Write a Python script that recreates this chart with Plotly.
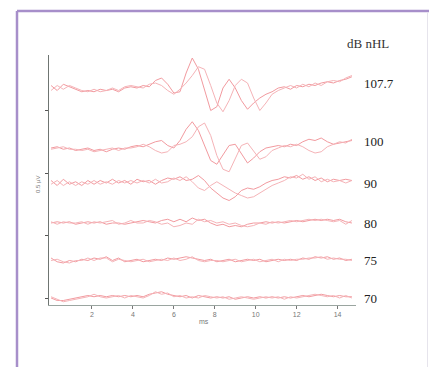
import plotly.graph_objects as go

# time axis (ms)
time_ms = [0.0, 0.3, 0.6, 0.9, 1.2, 1.5, 1.8, 2.1, 2.4, 2.7,
           3.0, 3.3, 3.6, 3.9, 4.2, 4.5, 4.8, 5.1, 5.4, 5.7,
           6.0, 6.3, 6.6, 6.9, 7.2, 7.5, 7.8, 8.1, 8.4, 8.7,
           9.0, 9.3, 9.6, 9.9, 10.2, 10.5, 10.8, 11.1, 11.4, 11.7,
           12.0, 12.3, 12.6, 12.9, 13.2, 13.5, 13.8, 14.1, 14.4, 14.7]

levels = ["107.7", "100", "90", "80", "75", "70"]
offsets_uv = [1.68, 1.20, 0.92, 0.60, 0.30, 0.0]

# replicate A / B waveforms (µV, relative to each trace baseline)
w1077_a = [0.02, -0.02, 0.03, 0.01, -0.01, -0.03, -0.02, -0.03, -0.01, -0.02,
           -0.01, -0.03, 0.00, 0.01, 0.00, 0.02, 0.01, 0.06, 0.08, 0.03,
           -0.04, -0.03, 0.12, 0.24, 0.15, -0.02, -0.18, -0.15, 0.00, 0.07,
           0.00, -0.10, -0.17, -0.12, -0.08, -0.05, -0.03, 0.00, 0.01, -0.01,
           0.02, 0.01, 0.03, 0.02, 0.04, 0.05, 0.04, 0.06, 0.07, 0.09]
w1077_b = [-0.02, 0.02, -0.01, 0.02, 0.00, -0.02, -0.03, -0.01, -0.03, -0.02,
           0.00, -0.02, 0.01, 0.02, 0.01, 0.00, 0.03, 0.04, 0.02, -0.02,
           -0.05, -0.01, 0.04, 0.10, 0.17, 0.15, 0.02, -0.12, -0.19, -0.10,
           0.02, 0.07, 0.04, -0.08, -0.18, -0.12, -0.05, -0.02, 0.00, 0.02,
           0.00, 0.03, 0.01, 0.04, 0.02, 0.05, 0.06, 0.05, 0.08, 0.10]
w100_a = [0.00, 0.01, -0.01, 0.00, -0.02, -0.01, 0.00, -0.02, -0.01, -0.03,
          -0.01, 0.00, -0.01, 0.01, 0.02, 0.01, 0.03, 0.05, 0.06, 0.02,
          0.00, 0.06, 0.15, 0.21, 0.14, 0.02, -0.10, -0.13, -0.05, 0.02,
          0.03, -0.05, -0.12, -0.08, -0.03, 0.00, 0.01, 0.02, 0.01, 0.03,
          0.02, 0.05, 0.07, 0.06, 0.08, 0.05, 0.03, 0.04, 0.05, 0.06]
w100_b = [-0.01, 0.00, 0.01, -0.01, -0.01, -0.02, -0.01, -0.03, -0.02, -0.01,
          0.00, -0.02, 0.00, 0.00, 0.01, 0.03, 0.01, -0.02, -0.04, -0.03,
          0.02, 0.03, 0.05, 0.09, 0.17, 0.20, 0.10, -0.06, -0.17, -0.19,
          -0.08, 0.02, 0.04, -0.03, -0.09, -0.07, -0.02, 0.00, 0.02, 0.01,
          0.03, 0.01, -0.02, -0.04, -0.03, 0.01, 0.03, 0.05, 0.04, 0.07]
w90_a = [0.02, -0.02, 0.03, -0.01, 0.01, -0.02, 0.02, -0.01, 0.02, 0.00,
         0.03, 0.00, 0.02, -0.01, 0.03, 0.01, 0.02, -0.01, 0.02, 0.04,
         0.03, 0.05, 0.02, 0.03, 0.06, 0.02, -0.04, -0.08, -0.12, -0.14,
         -0.11, -0.06, -0.04, -0.05, -0.03, 0.00, 0.02, 0.03, 0.05, 0.04,
         0.06, 0.03, 0.05, 0.02, 0.04, 0.01, 0.03, 0.02, 0.03, 0.02]
w90_b = [-0.01, 0.02, -0.02, 0.01, -0.02, 0.01, -0.01, 0.02, -0.01, 0.01,
         -0.01, 0.02, 0.00, 0.02, 0.00, 0.02, 0.00, 0.03, 0.00, 0.01,
         0.04, 0.02, 0.05, 0.01, -0.04, -0.06, -0.02, 0.01, -0.02, -0.05,
         -0.08, -0.10, -0.12, -0.11, -0.08, -0.05, -0.02, 0.00, 0.02, 0.05,
         0.04, 0.07, 0.03, 0.05, 0.01, 0.03, 0.01, 0.02, 0.00, 0.02]
w80_a = [0.00, 0.01, 0.00, 0.01, -0.01, 0.00, 0.01, 0.00, 0.01, -0.01,
         0.00, 0.00, -0.01, 0.00, 0.01, 0.02, 0.01, 0.00, 0.02, 0.03,
         0.01, 0.03, 0.01, 0.04, 0.02, 0.03, 0.00, -0.02, -0.01, -0.03,
         -0.02, -0.03, -0.01, 0.00, 0.00, 0.01, 0.00, 0.01, 0.00, 0.01,
         0.02, 0.01, 0.02, 0.03, 0.02, 0.03, 0.02, 0.03, 0.01, 0.00]
w80_b = [0.01, -0.01, 0.01, 0.00, 0.00, 0.01, -0.01, 0.01, 0.00, 0.01,
         0.02, -0.01, 0.00, 0.02, 0.00, 0.00, 0.02, 0.01, -0.01, 0.00,
         -0.03, -0.02, 0.00, -0.01, 0.03, 0.01, 0.02, 0.00, 0.01, -0.01,
         0.00, -0.02, -0.03, -0.02, 0.00, -0.01, 0.01, 0.00, 0.01, 0.02,
         0.01, 0.02, 0.03, 0.02, 0.03, 0.02, 0.01, 0.02, -0.01, 0.02]
w75_a = [0.02, -0.01, -0.02, 0.00, -0.01, 0.01, 0.00, 0.02, 0.01, 0.03,
         0.00, 0.02, -0.01, 0.00, 0.01, -0.01, 0.00, 0.01, 0.00, 0.02,
         0.01, 0.02, 0.03, 0.02, 0.01, 0.00, 0.01, -0.01, 0.00, 0.01,
         -0.01, 0.00, 0.01, 0.00, 0.01, -0.01, 0.00, 0.01, 0.00, 0.01,
         0.00, 0.02, 0.01, 0.03, 0.02, 0.03, 0.01, 0.02, 0.00, 0.01]
w75_b = [0.00, 0.01, -0.01, -0.02, 0.00, 0.00, 0.02, 0.00, 0.02, 0.02,
         -0.01, 0.01, 0.00, -0.01, 0.00, 0.01, -0.01, 0.00, 0.01, 0.00,
         0.02, 0.00, 0.01, 0.03, 0.00, -0.01, 0.00, 0.00, -0.01, 0.00,
         0.01, -0.01, 0.00, 0.01, -0.01, 0.00, 0.01, -0.01, 0.01, 0.00,
         0.01, 0.01, 0.02, 0.02, 0.03, 0.01, 0.02, 0.01, 0.01, 0.00]
w70_a = [0.00, -0.02, -0.02, -0.01, 0.00, 0.01, 0.02, 0.01, 0.02, 0.01,
         0.02, 0.01, 0.02, 0.01, 0.02, 0.01, 0.03, 0.04, 0.05, 0.03,
         0.02, 0.01, 0.02, 0.00, 0.02, 0.01, 0.00, 0.01, 0.00, 0.01,
         -0.01, 0.00, 0.01, 0.00, 0.01, 0.00, 0.01, 0.00, 0.01, 0.00,
         0.01, 0.02, 0.01, 0.02, 0.03, 0.02, 0.01, 0.02, 0.01, 0.01]
w70_b = [0.01, -0.01, -0.03, -0.02, -0.01, 0.00, 0.01, 0.03, 0.01, 0.00,
         0.01, 0.02, 0.00, 0.02, 0.01, 0.00, 0.02, 0.05, 0.03, 0.04,
         0.01, 0.02, 0.00, 0.01, 0.00, 0.02, 0.01, 0.00, 0.01, -0.01,
         0.00, 0.01, 0.00, -0.01, 0.00, 0.01, 0.00, 0.01, -0.01, 0.01,
         0.00, 0.01, 0.02, 0.03, 0.02, 0.01, 0.02, 0.00, 0.02, 0.00]

waves_a = [w1077_a, w100_a, w90_a, w80_a, w75_a, w70_a]
waves_b = [w1077_b, w100_b, w90_b, w80_b, w75_b, w70_b]
label_shift = [0.04, 0.05, 0.0, 0.0, 0.0, 0.0]

x_ticks = [2, 4, 6, 8, 10, 12, 14]
y_ticks = [0, 0.5, 1.0, 1.5]

W, H = 429, 367
ML, MR, MT, MB = 49, 73, 55, 62
PW, PH = W - ML - MR, H - MT - MB


def px_x(px):
    return (px - ML) / PW


def px_y(py):
    return (H - MB - py) / PH


fig = go.Figure()
for lvl, off, wa, wb in zip(levels, offsets_uv, waves_a, waves_b):
    fig.add_trace(go.Scatter(x=time_ms, y=[v + off for v in wa], mode="lines",
                             line=dict(color="#f29a9f", width=1), showlegend=False,
                             hoverinfo="skip"))
    fig.add_trace(go.Scatter(x=time_ms, y=[v + off for v in wb], mode="lines",
                             line=dict(color="#f5b3b7", width=1), showlegend=False,
                             hoverinfo="skip"))

annotations = []
for lvl, off, sh in zip(levels, offsets_uv, label_shift):
    annotations.append(dict(x=px_x(362), xref="paper", y=off + sh, yref="y",
                            text=lvl, showarrow=False, xanchor="left", yanchor="middle",
                            font=dict(family="Liberation Serif", size=13, color="#222222")))
annotations.append(dict(x=px_x(345), xref="paper", y=px_y(44), yref="paper",
                        text="dB nHL", showarrow=False, xanchor="left", yanchor="middle",
                        font=dict(family="Liberation Serif", size=13, color="#333333")))
annotations.append(dict(x=px_x(38), xref="paper", y=px_y(185), yref="paper",
                        text="0.5 µV", showarrow=False, textangle=-90,
                        xanchor="center", yanchor="middle",
                        font=dict(family="Liberation Sans", size=6, color="#777777")))
annotations.append(dict(x=px_x(204), xref="paper", y=px_y(321), yref="paper",
                        text="ms", showarrow=False, xanchor="center", yanchor="middle",
                        font=dict(family="Liberation Sans", size=7, color="#777777")))

shapes = [
    dict(type="line", xref="paper", yref="paper", x0=px_x(17), x1=px_x(440),
         y0=px_y(11), y1=px_y(11), line=dict(color="#a78fca", width=2.5)),
    dict(type="line", xref="paper", yref="paper", x0=px_x(17), x1=px_x(17),
         y0=px_y(11), y1=px_y(380), line=dict(color="#a78fca", width=2.5)),
    dict(type="line", xref="paper", yref="paper", x0=px_x(427.5), x1=px_x(427.5),
         y0=px_y(12), y1=px_y(380), line=dict(color="#e6e4ec", width=1)),
]

fig.update_layout(
    width=W, height=H,
    margin=dict(l=ML, r=MR, t=MT, b=MB),
    paper_bgcolor="white", plot_bgcolor="white",
    annotations=annotations, shapes=shapes,
    xaxis=dict(range=[-0.1, 14.9], tickvals=x_ticks, ticktext=[str(t) for t in x_ticks],
               showgrid=False, zeroline=False, showline=True, linecolor="#9aa5a0",
               linewidth=1, ticks="outside", ticklen=3, tickcolor="#777777",
               tickfont=dict(family="Liberation Sans", size=7, color="#777777")),
    yaxis=dict(range=[-0.056, 1.944], tickvals=y_ticks, showticklabels=False,
               showgrid=False, zeroline=False, showline=True, linecolor="#6f7572",
               linewidth=1, ticks="outside", ticklen=3, tickcolor="#555555"),
)

fig.write_html("out.html")
